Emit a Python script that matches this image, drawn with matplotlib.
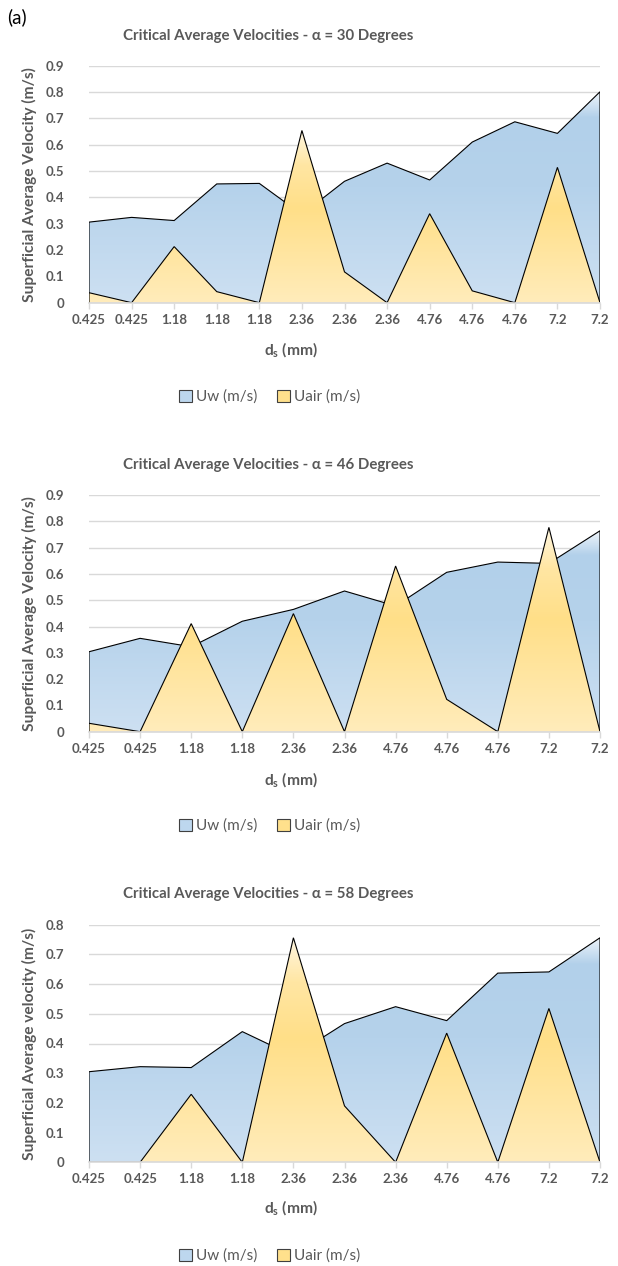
import matplotlib
matplotlib.use("Agg")
import matplotlib.pyplot as plt
import numpy as np
from matplotlib.colors import LinearSegmentedColormap
from matplotlib.patches import Polygon, Patch

plt.rcParams['font.family'] = ['Lato', 'DejaVu Sans']
plt.rcParams['mathtext.fontset'] = 'custom'
plt.rcParams['mathtext.bf'] = 'Lato:bold'
plt.rcParams['mathtext.rm'] = 'Lato'

# particle sizes d_s (mm) and critical superficial velocities (m/s)
sizes_30 = ['0.425', '0.425', '1.18', '1.18', '1.18', '2.36', '2.36', '2.36',
            '4.76', '4.76', '4.76', '7.2', '7.2']
uw_30 = [0.306, 0.324, 0.312, 0.451, 0.453, 0.335, 0.461, 0.530, 0.466, 0.610, 0.687, 0.643, 0.801]
uair_30 = [0.038, 0.0, 0.213, 0.042, 0.0, 0.654, 0.117, 0.0, 0.338, 0.045, 0.0, 0.514, 0.0]

sizes_46 = ['0.425', '0.425', '1.18', '1.18', '2.36', '2.36', '4.76', '4.76', '4.76', '7.2', '7.2']
uw_46 = [0.304, 0.355, 0.323, 0.420, 0.465, 0.535, 0.478, 0.606, 0.645, 0.640, 0.764]
uair_46 = [0.032, 0.0, 0.411, 0.0, 0.449, 0.0, 0.630, 0.123, 0.0, 0.777, 0.0]

sizes_58 = ['0.425', '0.425', '1.18', '1.18', '2.36', '2.36', '2.36', '4.76', '4.76', '7.2', '7.2']
uw_58 = [0.305, 0.322, 0.319, 0.440, 0.358, 0.467, 0.524, 0.477, 0.637, 0.641, 0.756]
uair_58 = [0.0, 0.0, 0.229, 0.0, 0.756, 0.190, 0.0, 0.435, 0.0, 0.518, 0.0]

W, H = 618, 1266
GREY = '#595959'
GRID = '#D9D9D9'

blue_stops = [(0.0, '#CDE0F2'), (0.55, '#B5D2EB'), (0.88, '#B2D0EA'), (1.0, '#EEF4FA')]
yellow_stops = [(0.0, '#FFECBB'), (0.55, '#FFDF88'), (0.8, '#FFE6A3'), (1.0, '#FFF7E2')]


def grad_area(ax, vals, stops, z):
    x = np.arange(len(vals))
    verts = [(0, 0)] + list(zip(x, vals)) + [(x[-1], 0)]
    poly = Polygon(verts, closed=True, facecolor='none', edgecolor='none', zorder=z)
    ax.add_patch(poly)
    cmap = LinearSegmentedColormap.from_list('g', stops)
    img = ax.imshow(np.linspace(0, 1, 256).reshape(-1, 1), cmap=cmap, origin='lower',
                    extent=[0, x[-1], 0, max(vals)], aspect='auto', zorder=z,
                    interpolation='bilinear')
    img.set_clip_path(poly)
    ox, oy = zip(*verts)
    ax.plot(ox, oy, color='black', lw=0.8, zorder=z + 0.1, solid_joinstyle='miter')


def panel(bottom_px, top_px, ymax, sizes, uw, uair, title, ylabel, title_y, xlab_y, leg_y):
    ax = fig.add_axes([89 / W, 1 - bottom_px / H, 511 / W, (bottom_px - top_px) / H])
    grad_area(ax, uw, blue_stops, 2)
    grad_area(ax, uair, yellow_stops, 3)
    ax.set_xlim(0, len(sizes) - 1)
    ax.set_ylim(0, ymax)
    ax.set_xticks(np.arange(len(sizes)))
    ax.set_xticklabels(sizes)
    ticks = np.round(np.arange(0, ymax + 0.001, 0.1), 1)
    ax.set_yticks(ticks)
    ax.set_yticklabels(['0'] + [f'{t:.1f}' for t in ticks[1:]])
    ax.grid(axis='y', color=GRID, lw=1.0, zorder=0)
    ax.set_axisbelow(True)
    for s in ['top', 'right', 'left']:
        ax.spines[s].set_visible(False)
    ax.spines['bottom'].set_color(GRID)
    ax.spines['bottom'].set_linewidth(1.2)
    ax.spines['bottom'].set_zorder(5)
    ax.tick_params(axis='x', length=4, color=GRID, width=1, pad=4,
                   labelsize=9.5, labelcolor=GREY)
    ax.tick_params(axis='y', length=0, pad=18, labelsize=9.5, labelcolor=GREY)
    for lab in ax.get_xticklabels() + ax.get_yticklabels():
        lab.set_fontweight('bold')

    fig.text(268 / W, 1 - title_y / H, title, ha='center', va='center',
             fontsize=10.8, fontweight='bold', color=GREY)
    fig.text(29 / W, 1 - (top_px + bottom_px) / 2 / H, ylabel, rotation=90,
             ha='center', va='center', fontsize=11.2, fontweight='bold', color=GREY)
    fig.text(291 / W, 1 - xlab_y / H, r'$\mathbf{d_s}$ (mm)', ha='center', va='center',
             fontsize=11.2, fontweight='bold', color=GREY)
    handles = [Patch(facecolor='#BDD7EE', edgecolor='#404040', lw=0.8, label='Uw (m/s)'),
               Patch(facecolor='#FFE08C', edgecolor='#404040', lw=0.8, label='Uair (m/s)')]
    fig.legend(handles=handles, loc='center', bbox_to_anchor=(270 / W, 1 - leg_y / H),
               ncol=2, frameon=False, fontsize=11, labelcolor=GREY,
               handlelength=0.8, handleheight=0.8, handletextpad=0.3, columnspacing=1.3)
    return ax


fig = plt.figure(figsize=(W / 100, H / 100), dpi=100)
fig.text(7 / W, 1 - 17 / H, '(a)', ha='left', va='center', fontsize=13.5, color='black')

panel(302.7, 65.7, 0.9, sizes_30, uw_30, uair_30,
      'Critical Average Velocities - α = 30 Degrees',
      'Superficial Average Velocity (m/s)', 36, 350, 397)
panel(731.7, 495.0, 0.9, sizes_46, uw_46, uair_46,
      'Critical Average Velocities - α = 46 Degrees',
      'Superficial Average Velocity (m/s)', 465, 780, 826)
panel(1162.3, 924.7, 0.8, sizes_58, uw_58, uair_58,
      'Critical Average Velocities - α = 58 Degrees',
      'Superficial Average velocity (m/s)', 894, 1208, 1256)

fig.savefig('out.png', dpi=100)
